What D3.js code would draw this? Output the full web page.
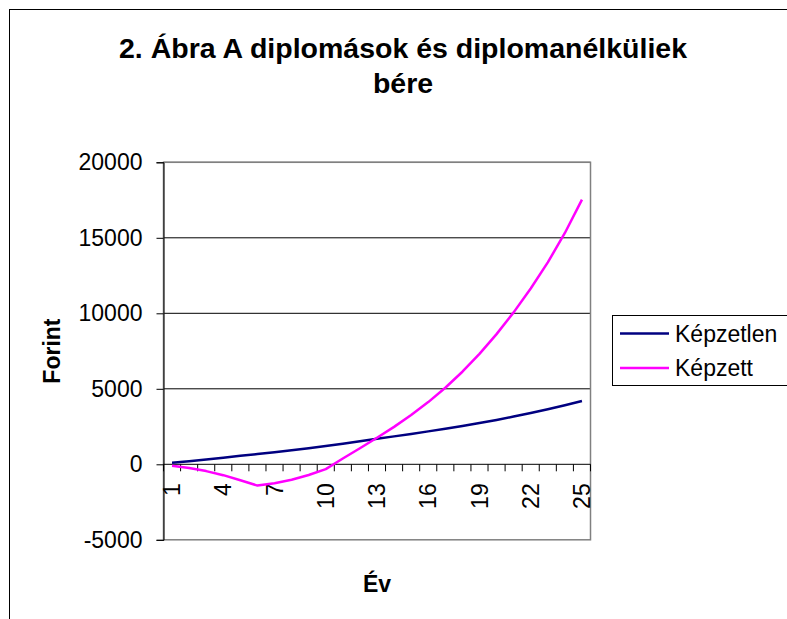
<!DOCTYPE html>
<html>
<head>
<meta charset="utf-8">
<script src="https://cdn.jsdelivr.net/npm/d3@7"></script>
<style>
  body { margin: 0; background: #fff; }
  svg { display: block; font-family: "Liberation Sans", Arial, sans-serif; }
</style>
</head>
<body>
<div id="viz"></div>
<script>
var years = ["1","2","3","4","5","6","7","8","9","10","11","12","13","14","15","16","17","18","19","20","21","22","23","24","25"];
var kepzetlen = [100, 200, 310, 440, 560, 680, 800, 930, 1070, 1210, 1360, 1520, 1690, 1850, 2010, 2180, 2360, 2540, 2730, 2940, 3160, 3400, 3650, 3910, 4190];
var kepzett = [-90, -240, -450, -720, -1060, -1410, -1250, -1020, -710, -320, 380, 1060, 1760, 2480, 3260, 4120, 5070, 6130, 7310, 8620, 10060, 11640, 13370, 15320, 17530];
var yTicks = [-5000, 0, 5000, 10000, 15000, 20000];
var xLabels = ["1","4","7","10","13","16","19","22","25"];
var seriesNames = ["Képzetlen", "Képzett"];
var colors = ["#000080", "#ff00ff"];

var width = 787, height = 619;
var svg = d3.select("#viz").append("svg").attr("width", width).attr("height", height);

var plot = {left: 163.5, right: 590.5, top: 162.3, bottom: 539.8};

var x = d3.scaleBand()
    .domain(years)
    .range([plot.left, plot.right]);

var y = d3.scaleLinear()
    .domain([-5000, 20000])
    .range([plot.bottom, plot.top]);

// chart area border (runs off the page on the right and bottom)
svg.append("rect")
    .attr("x", 9.5)
    .attr("y", 9.5)
    .attr("width", 1000)
    .attr("height", 1000)
    .attr("fill", "#fff")
    .attr("stroke", "#000");

// title
svg.append("text")
    .attr("x", 403)
    .attr("y", 58)
    .attr("text-anchor", "middle")
    .style("font-size", "28.5px")
    .style("font-weight", "bold")
    .text("2. Ábra A diplomások és diplomanélküliek");

svg.append("text")
    .attr("x", 403)
    .attr("y", 93)
    .attr("text-anchor", "middle")
    .style("font-size", "28.5px")
    .style("font-weight", "bold")
    .text("bére");

// gridlines
svg.append("g")
    .selectAll("line")
    .data(yTicks.filter(function(t){ return t != 0 && t != -5000; }))
    .enter().append("line")
      .attr("x1", plot.left)
      .attr("x2", plot.right)
      .attr("y1", function(d){ return y(d); })
      .attr("y2", function(d){ return y(d); })
      .attr("stroke", "#000")
      .attr("stroke-width", 1);

// plot area border (gray)
svg.append("rect")
    .attr("x", plot.left)
    .attr("y", plot.top)
    .attr("width", plot.right - plot.left)
    .attr("height", plot.bottom - plot.top)
    .attr("fill", "none")
    .attr("stroke", "#808080")
    .attr("stroke-width", 1.5);

// y axis (plain hyphen for negatives, like the original)
var yAxis = d3.axisLeft(y)
    .tickValues(yTicks)
    .tickSize(7)
    .tickPadding(14)
    .tickFormat(function(d){ return String(d); });

var yg = svg.append("g")
    .attr("transform", "translate(" + plot.left + ",0)")
    .call(yAxis);
yg.selectAll("path, line").attr("stroke", "#000");
yg.selectAll("text")
    .attr("fill", "#000")
    .style("font-size", "23px")
    .style("font-family", "'Liberation Sans', Arial, sans-serif");

// x axis at zero
var x0 = y(0);
var xg = svg.append("g").attr("class", "x-axis");
xg.append("line")
    .attr("x1", plot.left)
    .attr("x2", plot.right)
    .attr("y1", x0)
    .attr("y2", x0)
    .attr("stroke", "#000");

xg.selectAll("line.tick")
    .data(d3.range(years.length + 1))
    .enter().append("line")
      .attr("class", "tick")
      .attr("x1", function(i){ return plot.left + i * x.step(); })
      .attr("x2", function(i){ return plot.left + i * x.step(); })
      .attr("y1", x0)
      .attr("y2", x0 + 7)
      .attr("stroke", "#000");

xg.selectAll("text")
    .data(xLabels)
    .enter().append("text")
      .attr("transform", function(d){ return "translate(" + (x(d) + x.bandwidth() / 2) + "," + (x0 + 19) + ") rotate(-90)"; })
      .attr("text-anchor", "end")
      .attr("dy", "0.35em")
      .style("font-size", "23px")
      .text(function(d){ return d; });

// lines
var line = d3.line()
    .x(function(d, i){ return x(years[i]) + x.bandwidth() / 2; })
    .y(function(d){ return y(d); });

[kepzetlen, kepzett].forEach(function(s, k){
  svg.append("path")
      .datum(s)
      .attr("d", line)
      .attr("fill", "none")
      .attr("stroke", colors[k])
      .attr("stroke-width", 2.5)
      .attr("stroke-linejoin", "round");
});

// axis titles
svg.append("text")
    .attr("transform", "translate(60," + ((plot.top + plot.bottom) / 2) + ") rotate(-90)")
    .attr("text-anchor", "middle")
    .style("font-size", "23px")
    .style("font-weight", "bold")
    .text("Forint");

svg.append("text")
    .attr("x", (plot.left + plot.right) / 2)
    .attr("y", 592)
    .attr("text-anchor", "middle")
    .style("font-size", "23px")
    .style("font-weight", "bold")
    .text("Év");

// legend
var legend = svg.append("g");
legend.append("rect")
    .attr("x", 612.5)
    .attr("y", 315.5)
    .attr("width", 300)
    .attr("height", 70)
    .attr("fill", "#fff")
    .attr("stroke", "#000");

var item = legend.selectAll("g")
    .data(seriesNames)
    .enter().append("g")
      .attr("transform", function(d, i){ return "translate(0," + (333.5 + i * 34.5) + ")"; });

item.append("line")
    .attr("x1", 620)
    .attr("x2", 669)
    .attr("stroke", function(d, i){ return colors[i]; })
    .attr("stroke-width", 2.5);

item.append("text")
    .attr("x", 675)
    .attr("dy", "0.35em")
    .style("font-size", "23px")
    .text(function(d){ return d; });
</script>
</body>
</html>
